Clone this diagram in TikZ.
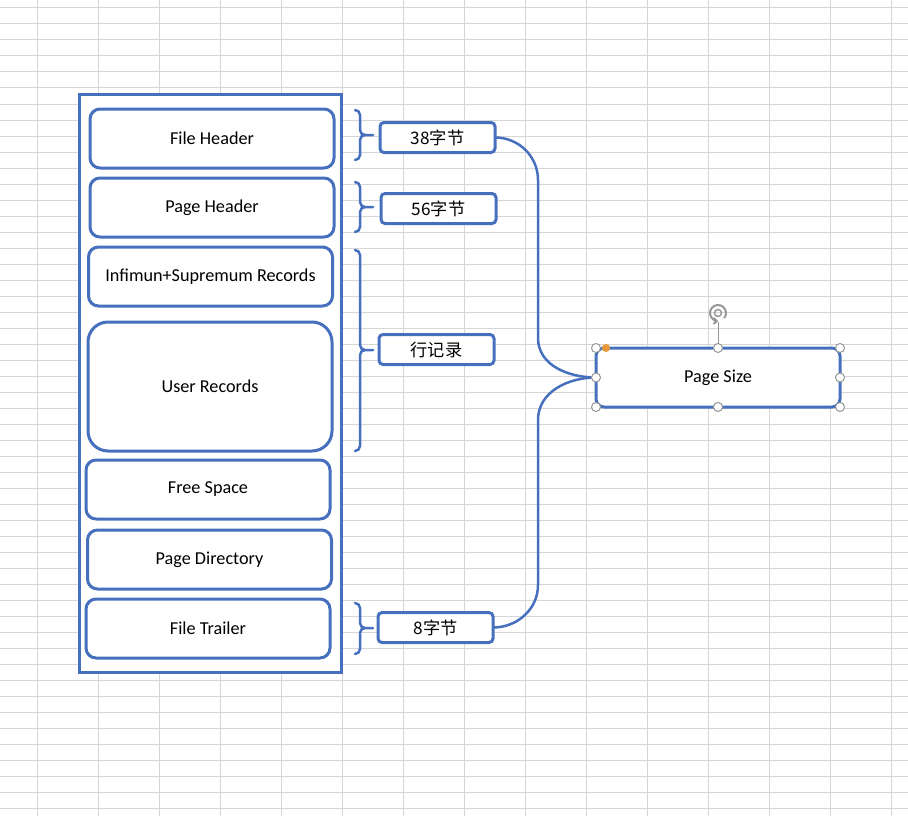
\documentclass[tikz,border=0pt]{standalone}
\usepackage{fontspec}
\setmainfont{Carlito}
\newfontfamily\cjk{Noto Sans CJK SC}
\usetikzlibrary{positioning, fit, arrows.meta, backgrounds}
\definecolor{officeblue}{RGB}{70,112,190}
\definecolor{gridgray}{RGB}{214,214,214}
\definecolor{handlegray}{RGB}{150,150,150}
\definecolor{handleorange}{RGB}{232,152,52}

\begin{document}
\begin{tikzpicture}[
    x=1pt, y=-1pt,
    every node/.style = {font=\fontsize{18.2}{21}\selectfont},
    part/.style = {draw=officeblue, fill=white, line width=3pt, rounded corners=10pt,
                   minimum width=244pt, minimum height=#1, inner sep=0pt, outer sep=0pt},
    part/.default=59pt,
    tag/.style = {draw=officeblue, fill=white, line width=3pt, rounded corners=4pt,
                  minimum width=115pt, minimum height=30pt, inner sep=0pt, outer sep=0pt,
                  font=\cjk\fontsize{17.2}{20}\selectfont},
    frame/.style = {draw=officeblue, fill=white, line width=3pt, outer sep=0pt},
    brace/.style = {draw=officeblue, line width=2.5pt, line cap=round},
    link/.style = {draw=officeblue, line width=2.5pt},
    handle/.style = {draw=handlegray, fill=white, line width=1pt},
    grid/.style = {draw=gridgray, line width=1pt}
  ]
  \useasboundingbox (0,0) rectangle (908,816);

  \node[part] at (212,138.5) (FH) {File Header};
  \node[part, below=10pt of FH] (PH) {Page Header};
  \node[part, below=10pt of PH, xshift=-1.5pt] (IS) {Infimun+Supremum Records};
  \node[part=129pt, rounded corners=20pt, below=16pt of IS, xshift=-0.5pt] (UR) {User Records};
  \node[part, below=9pt of UR, xshift=-2pt] (FS) {Free Space};
  \node[part, below=11pt of FS, xshift=1.5pt] (PD) {Page Directory};
  \node[part, below=10pt of PD, xshift=-1.5pt] (FT) {File Trailer};

  \begin{scope}[on background layer]
    \foreach \x in {37,98,...,891}
      \draw[grid] (\x,0) -- (\x,816);
    \foreach \y in {8,24,...,808}
      \draw[grid] (0,\y) -- (908,\y);
    \node[frame, fit=(FH) (UR) (FT), inner xsep=7pt, inner ysep=14pt] (page) {};
  \end{scope}

  \node[tag, right=46pt of FH, yshift=1pt] (L1) {38字节};
  \node[tag, right=47pt of PH, yshift=-1pt] (L2) {56字节};
  \node[tag] at (436.5,349.5) (L3) {行记录};
  \node[tag, right=48pt of FT, yshift=1pt] (L4) {8字节};

  \node[part, rounded corners=8pt] at (718,377.5) (PS) {Page Size};

  % braces
  \foreach \ya/\ym/\yb in {110/135/160, 182/207/232, 250/350/451, 603/628/654}
    \draw[brace] (355,\ya) to[out=0,in=90] (360,\ya+5) -- (360,\ym-5)
      to[out=-90,in=180] (365,\ym) -- (373,\ym)
      (365,\ym) to[out=180,in=90] (360,\ym+5) -- (360,\yb-5)
      to[out=-90,in=0] (355,\yb);

  \draw[link] (L1.east) to[out=0,in=90] (538,180) -- (538,338)
    to[out=-90,in=180] (PS.west);
  \draw[link] (L4.east) to[out=0,in=-90] (538,585) -- (538,420)
    to[out=90,in=180] (PS.west);

  % selection handles
  \draw[handlegray, line width=1pt] (PS.north) -- ([yshift=26pt]PS.north);
  \coordinate (rot) at ([yshift=35pt]PS.north);
  \draw[handlegray, line width=2pt, -{Straight Barb[length=3pt]}] ([shift={(-40:8pt)}]rot) arc[start angle=-40, end angle=270, radius=8pt];
  \draw[handlegray, line width=1.4pt] (rot) circle (3.5pt);
  \foreach \a in {north west, north, north east, west, east, south west, south, south east}
    \draw[handle] (PS.\a) circle (4.5pt);
  \fill[handleorange] ([xshift=10pt]PS.north west) circle (4pt);

\end{tikzpicture}
\end{document}
